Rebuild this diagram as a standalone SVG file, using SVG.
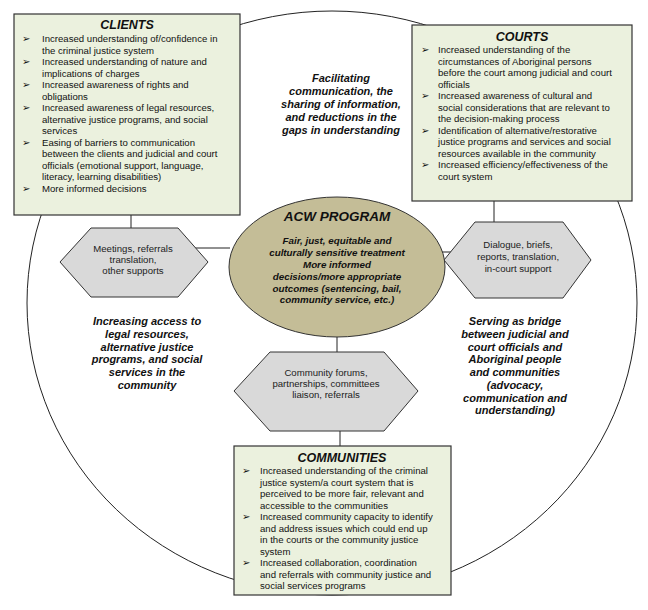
<svg xmlns="http://www.w3.org/2000/svg" width="648" height="610" viewBox="0 0 648 610">
<style>
text{font-family:"Liberation Sans",Arial,sans-serif;fill:#111}
.box{fill:#EBF1DE;stroke:#333;stroke-width:1.2}
.hex{fill:#D9D9D9;stroke:#333;stroke-width:1}
.ln{stroke:#222;stroke-width:1;fill:none}
.t{font-size:12.5px;font-weight:bold;font-style:italic;text-anchor:middle}
.i{font-size:9.6px}
.h{font-size:9.6px;text-anchor:middle;fill:#222}
.bi{font-size:11px;font-weight:bold;font-style:italic;text-anchor:middle}
.ci{font-size:9.8px;font-weight:bold;font-style:italic;text-anchor:middle}
</style>
<rect width="648" height="610" fill="#fff"/>
<g id="connectors">
<ellipse class="ln" cx="332" cy="303" rx="305" ry="292"/>
<line class="ln" x1="131" y1="215" x2="131" y2="228"/>
<line class="ln" x1="193" y1="248" x2="230" y2="248"/>
<line class="ln" x1="494" y1="201" x2="494" y2="222"/>
<line class="ln" x1="435" y1="252" x2="452" y2="252"/>
<line class="ln" x1="337" y1="336" x2="337" y2="352"/>
<line class="ln" x1="340" y1="430" x2="340" y2="446"/>
</g>
<g id="clients">
<rect class="box" x="14" y="14" width="226" height="201"/>
<text class="t" x="127" y="29">CLIENTS</text>
<g class="i">
<text x="22" y="42">➢</text><text x="42" y="42">Increased understanding of/confidence in</text>
<text x="42" y="53.5">the criminal justice system</text>
<text x="22" y="65">➢</text><text x="42" y="65">Increased understanding of nature and</text>
<text x="42" y="76.5">implications of charges</text>
<text x="22" y="88">➢</text><text x="42" y="88">Increased awareness of rights and</text>
<text x="42" y="99.5">obligations</text>
<text x="22" y="111">➢</text><text x="42" y="111">Increased awareness of legal resources,</text>
<text x="42" y="122.5">alternative justice programs, and social</text>
<text x="42" y="134">services</text>
<text x="22" y="145.5">➢</text><text x="42" y="145.5">Easing of barriers to communication</text>
<text x="42" y="157">between the clients and judicial and court</text>
<text x="42" y="168.5">officials (emotional support, language,</text>
<text x="42" y="180">literacy, learning disabilities)</text>
<text x="22" y="191.5">➢</text><text x="42" y="191.5">More informed decisions</text>
</g>
</g>
<g id="courts">
<rect class="box" x="412" y="25" width="220" height="176"/>
<text class="t" x="522" y="41">COURTS</text>
<g class="i">
<text x="421" y="53">➢</text><text x="438" y="53">Increased understanding of the</text>
<text x="438" y="64.5">circumstances of Aboriginal persons</text>
<text x="438" y="76">before the court among judicial and court</text>
<text x="438" y="87.5">officials</text>
<text x="421" y="99">➢</text><text x="438" y="99">Increased awareness of cultural and</text>
<text x="438" y="110.5">social considerations that are relevant to</text>
<text x="438" y="122">the decision-making process</text>
<text x="421" y="133.5">➢</text><text x="438" y="133.5">Identification of alternative/restorative</text>
<text x="438" y="145">justice programs and services and social</text>
<text x="438" y="156.5">resources available in the community</text>
<text x="421" y="168">➢</text><text x="438" y="168">Increased efficiency/effectiveness of the</text>
<text x="438" y="179.5">court system</text>
</g>
</g>
<g id="communities">
<rect class="box" x="234" y="446" width="217" height="149"/>
<text class="t" x="342" y="462">COMMUNITIES</text>
<g class="i">
<text x="242" y="474">➢</text><text x="260" y="474">Increased understanding of the criminal</text>
<text x="260" y="485.5">justice system/a court system that is</text>
<text x="260" y="497">perceived to be more fair, relevant and</text>
<text x="260" y="508.5">accessible to the communities</text>
<text x="242" y="520">➢</text><text x="260" y="520">Increased community capacity to identify</text>
<text x="260" y="531.5">and address issues which could end up</text>
<text x="260" y="543">in the courts or the community justice</text>
<text x="260" y="554.5">system</text>
<text x="242" y="566">➢</text><text x="260" y="566">Increased collaboration, coordination</text>
<text x="260" y="577.5">and referrals with community justice and</text>
<text x="260" y="589">social services programs</text>
</g>
</g>
<g id="acw">
<ellipse cx="337" cy="267" rx="108" ry="70" fill="#C4BD97" stroke="#333" stroke-width="1"/>
<text x="337" y="221" style="font-size:13.5px;font-weight:bold;font-style:italic;text-anchor:middle">ACW PROGRAM</text>
<text class="ci" x="337" y="244">Fair, just, equitable and</text>
<text class="ci" x="337" y="256">culturally sensitive treatment</text>
<text class="ci" x="337" y="268">More informed</text>
<text class="ci" x="337" y="280">decisions/more appropriate</text>
<text class="ci" x="337" y="292">outcomes (sentencing, bail,</text>
<text class="ci" x="337" y="303">community service, etc.)</text>
</g>
<g id="hex-left">
<polygon class="hex" points="60,262 91,228 178,228 208,262 178,297 91,297"/>
<text class="h" x="133" y="252">Meetings, referrals</text>
<text class="h" x="133" y="263">translation,</text>
<text class="h" x="133" y="274">other supports</text>
</g>
<g id="hex-right">
<polygon class="hex" points="444,260 475,222 563,222 591,260 563,298 475,298"/>
<text class="h" x="518" y="248">Dialogue, briefs,</text>
<text class="h" x="518" y="260">reports, translation,</text>
<text class="h" x="518" y="272">in-court support</text>
</g>
<g id="hex-bottom">
<polygon class="hex" points="234,391 270,352 384,352 418,391 384,431 270,431"/>
<text class="h" x="326" y="376">Community forums,</text>
<text class="h" x="326" y="387">partnerships, committees</text>
<text class="h" x="326" y="398">liaison, referrals</text>
</g>
<g id="labels">
<text class="bi" x="341" y="82">Facilitating</text>
<text class="bi" x="341" y="95">communication, the</text>
<text class="bi" x="341" y="108">sharing of information,</text>
<text class="bi" x="341" y="121">and reductions in the</text>
<text class="bi" x="341" y="134">gaps in understanding</text>
<text class="bi" x="147" y="325">Increasing access to</text>
<text class="bi" x="147" y="338">legal resources,</text>
<text class="bi" x="147" y="350.5">alternative justice</text>
<text class="bi" x="147" y="363">programs, and social</text>
<text class="bi" x="147" y="376">services in the</text>
<text class="bi" x="147" y="389">community</text>
<text class="bi" x="515" y="325">Serving as bridge</text>
<text class="bi" x="515" y="338">between judicial and</text>
<text class="bi" x="515" y="350.5">court officials and</text>
<text class="bi" x="515" y="363">Aboriginal people</text>
<text class="bi" x="515" y="376">and communities</text>
<text class="bi" x="515" y="389">(advocacy,</text>
<text class="bi" x="515" y="401.5">communication and</text>
<text class="bi" x="515" y="414">understanding)</text>
</g>
</svg>
